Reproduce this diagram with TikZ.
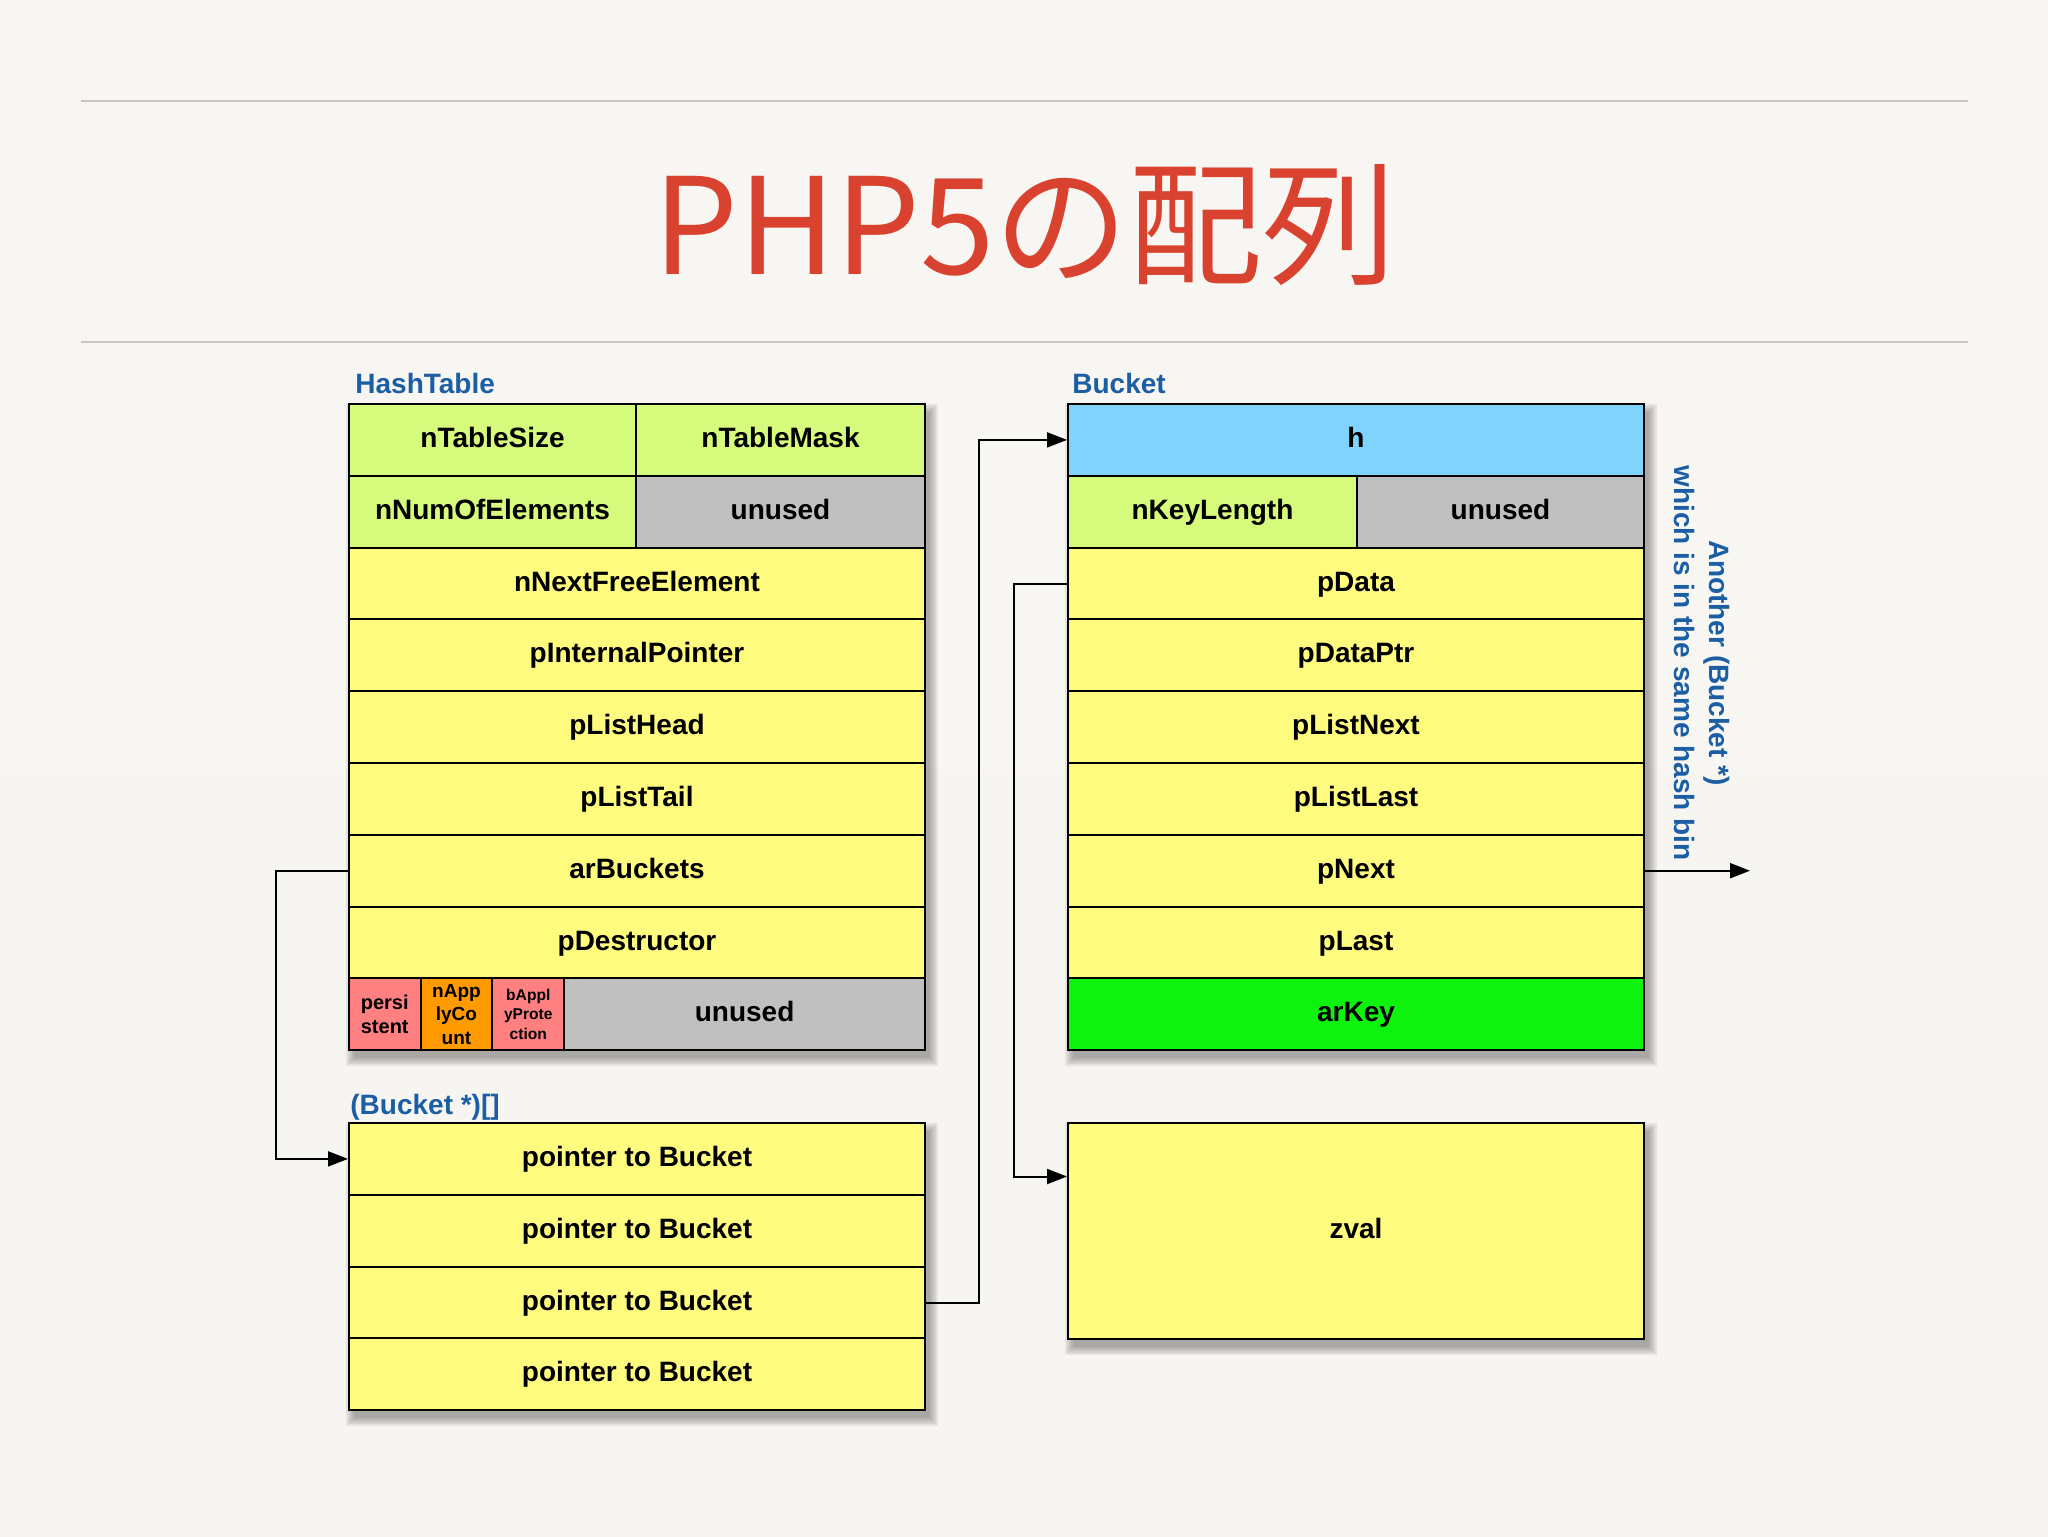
\documentclass[tikz,border=0pt]{standalone}
\usepackage{fontspec}
\setmainfont{Liberation Sans}
\newfontfamily\cjkfont{Noto Sans CJK JP}
\usetikzlibrary{arrows.meta,calc}
\definecolor{bgtop}{HTML}{F8F6F2}
\definecolor{bgmid}{HTML}{E6E4E1}
\definecolor{bgbot}{HTML}{F7F5F1}
\definecolor{rulec}{HTML}{C9C7C3}
\definecolor{titlered}{HTML}{D9422E}
\definecolor{lblue}{HTML}{1B5EA4}
\definecolor{cgreen}{HTML}{D6FA7C}
\definecolor{cyellow}{HTML}{FFFB7E}
\definecolor{cgray}{HTML}{C0C0C0}
\definecolor{cblue}{HTML}{7FD4FD}
\definecolor{carkey}{HTML}{0EF30E}
\definecolor{csalmon}{HTML}{FF8080}
\definecolor{corange}{HTML}{FF9A00}
\tikzset{
  cellbox/.style={draw=black,line width=1pt,rectangle,inner sep=0pt,align=center,
    text height=10.5pt,text depth=3pt,
    font=\fontsize{14}{17}\selectfont\bfseries},
  smallcell/.style={draw=black,line width=1pt,rectangle,inner sep=0pt,align=center,
    font=\fontsize{10}{12}\selectfont\bfseries},
  conn/.style={draw=black,line width=1pt,-{Triangle[length=10pt,width=7.5pt]}},
  bluelabel/.style={text=lblue,inner sep=0pt,font=\fontsize{14}{17}\selectfont\bfseries},
}
\newcommand\cellnode[7]{\node[cellbox,fill=#6,minimum width={(#4-#2)*0.5pt},minimum height={(#5-#3)*0.5pt}] (#1) at ({(#2+#4)/2},{(#3+#5)/2}) {#7};}
\newcommand\shadowbox[4]{\foreach \d in {0,2,4,6,8}{\fill[black,opacity=0.07] ({#1+5-\d},{#2+8-\d}) rectangle ({#3+5+\d},{#4+8+\d});}}
\begin{document}
\begin{tikzpicture}[x=0.5pt,y=-0.5pt]
\useasboundingbox (0,0) rectangle (2048,1536);
\shade[top color=bgtop,middle color=bgmid,bottom color=bgbot] (0,0) rectangle (2048,1536);
\draw[rulec,line width=0.9pt] (81,101) -- (1968,101);
\draw[rulec,line width=0.9pt] (81,342) -- (1968,342);
\node[anchor=base,text=titlered,inner sep=0pt,font=\cjkfont\fontsize{67}{70}\selectfont] (title) at (1025,274) {PHP5の配列};
% labels
\node[bluelabel,anchor=base west] (lblht) at (355,393) {HashTable};
\node[bluelabel,anchor=base west] (lblbk) at (1072,393) {Bucket};
\node[bluelabel,anchor=base west] (lblarr) at (350,1114) {(Bucket *)[]};
% shadows
\shadowbox{349}{404}{925}{1050}
\shadowbox{349}{1123}{925}{1410}
\shadowbox{1068}{404}{1644}{1050}
\shadowbox{1068}{1123}{1644}{1339}
% HashTable
\cellnode{tsize}{349}{404}{636}{475.8}{cgreen}{nTableSize}
\cellnode{tmask}{636}{404}{925}{475.8}{cgreen}{nTableMask}
\cellnode{nnum}{349}{475.8}{636}{547.6}{cgreen}{nNumOfElements}
\cellnode{unu1}{636}{475.8}{925}{547.6}{cgray}{unused}
\cellnode{nnext}{349}{547.6}{925}{619.4}{cyellow}{nNextFreeElement}
\cellnode{pint}{349}{619.4}{925}{691.2}{cyellow}{pInternalPointer}
\cellnode{plh}{349}{691.2}{925}{763}{cyellow}{pListHead}
\cellnode{plt}{349}{763}{925}{834.8}{cyellow}{pListTail}
\cellnode{arb}{349}{834.8}{925}{906.6}{cyellow}{arBuckets}
\cellnode{pdes}{349}{906.6}{925}{978.4}{cyellow}{pDestructor}
\node[smallcell,fill=csalmon,minimum width={71.5*0.5pt},minimum height={71.8*0.5pt}] (pers) at ({(349+420.5)/2},1014.3) {persi\\stent};
\node[smallcell,fill=corange,minimum width={71.9*0.5pt},minimum height={71.8*0.5pt},font=\fontsize{9.5}{11.7}\selectfont\bfseries] (napp) at ({(420.5+492.4)/2},1014.3) {nApp\\lyCo\\unt};
\node[smallcell,fill=csalmon,minimum width={71.8*0.5pt},minimum height={71.8*0.5pt},font=\fontsize{7.8}{9.8}\selectfont\bfseries] (bapp) at ({(492.4+564.2)/2},1014.3) {bAppl\\yProte\\ction};
\cellnode{unu2}{564.2}{978.4}{925}{1050.2}{cgray}{unused}
% Bucket *[]
\cellnode{p1}{349}{1123}{925}{1194.8}{cyellow}{pointer to Bucket}
\cellnode{p2}{349}{1194.8}{925}{1266.6}{cyellow}{pointer to Bucket}
\cellnode{p3}{349}{1266.6}{925}{1338.4}{cyellow}{pointer to Bucket}
\cellnode{p4}{349}{1338.4}{925}{1410.2}{cyellow}{pointer to Bucket}
% Bucket
\cellnode{h}{1068}{404}{1644}{475.8}{cblue}{h}
\cellnode{nkey}{1068}{475.8}{1357}{547.6}{cgreen}{nKeyLength}
\cellnode{unu3}{1357}{475.8}{1644}{547.6}{cgray}{unused}
\cellnode{pdata}{1068}{547.6}{1644}{619.4}{cyellow}{pData}
\cellnode{pdptr}{1068}{619.4}{1644}{691.2}{cyellow}{pDataPtr}
\cellnode{pln}{1068}{691.2}{1644}{763}{cyellow}{pListNext}
\cellnode{pll}{1068}{763}{1644}{834.8}{cyellow}{pListLast}
\cellnode{pnext}{1068}{834.8}{1644}{906.6}{cyellow}{pNext}
\cellnode{plast}{1068}{906.6}{1644}{978.4}{cyellow}{pLast}
\cellnode{arkey}{1068}{978.4}{1644}{1050.2}{carkey}{arKey}
% zval
\cellnode{zval}{1068}{1123}{1644}{1339}{cyellow}{zval}
% rotated note
\node[bluelabel,rotate=-90,align=center,font=\fontsize{14}{17.5}\selectfont\bfseries] (note) at (1702,663) {Another (Bucket *)\\which is in the same hash bin};
% connectors
\coordinate (nb) at (1750,870.7);
\coordinate (zin) at ($(zval.north west)!0.25!(zval.south west)$);
\draw[conn] (arb.west) -- ++(-72,0) |- (p1.west);
\draw[conn] (p3.east) -- ++(53,0) |- (h.west);
\draw[conn] (pdata.west) -- ++(-53,0) |- (zin);
\draw[conn] (pnext.east) -- (nb);
\end{tikzpicture}
\end{document}
